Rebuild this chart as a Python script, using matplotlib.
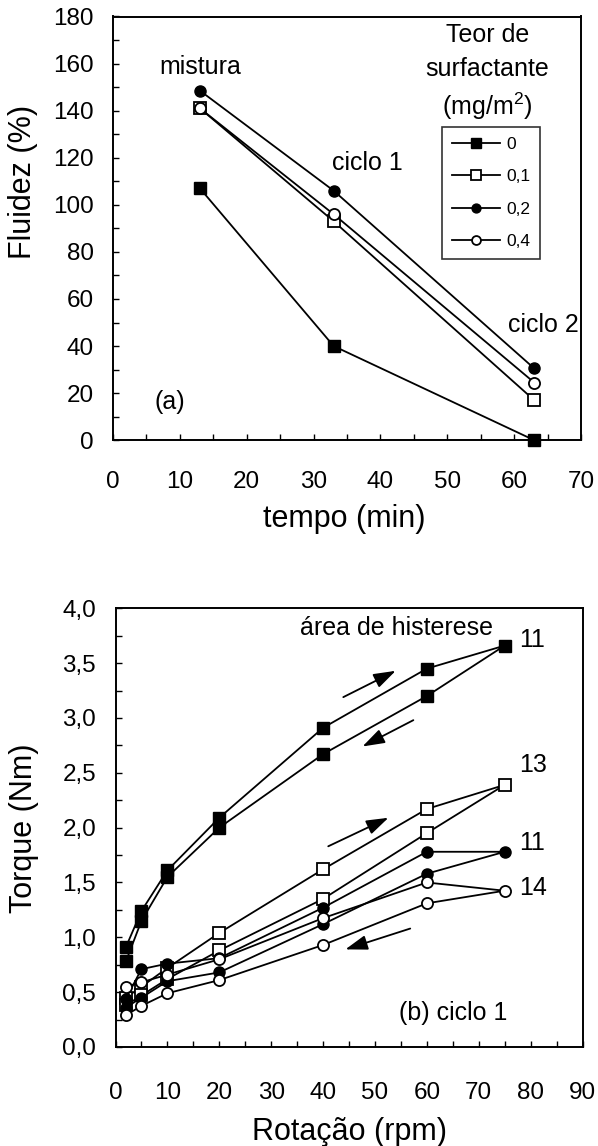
import matplotlib
matplotlib.use("Agg")
import matplotlib.pyplot as plt
from matplotlib.ticker import MultipleLocator, FixedLocator

plt.rcParams['font.family'] = ['Liberation Sans', 'DejaVu Sans']
plt.rcParams['mathtext.fontset'] = 'custom'
plt.rcParams['mathtext.rm'] = 'Liberation Sans'
plt.rcParams['mathtext.it'] = 'Liberation Sans:italic'
plt.rcParams['mathtext.bf'] = 'Liberation Sans:bold'

# ---------------- data: (a) fluidity ----------------
tempo = [13, 33, 63]
surf_labels = ["0", "0,1", "0,2", "0,4"]
fluidez_0 = [107, 40, 0]
fluidez_01 = [141, 93, 17]
fluidez_02 = [148.5, 106, 30.5]
fluidez_04 = [141, 96, 24.5]

# ---------------- data: (b) torque hysteresis ----------------
rot_up = [2, 5, 10, 20, 40, 60, 75]
rot_down = [60, 40, 20, 10, 5, 2]
torque_0_up = [0.91, 1.24, 1.61, 2.09, 2.91, 3.45, 3.66]
torque_0_down = [3.20, 2.67, 2.00, 1.55, 1.15, 0.78]
torque_01_up = [0.45, 0.55, 0.72, 1.04, 1.62, 2.17, 2.39]
torque_01_down = [1.95, 1.35, 0.88, 0.62, 0.47, 0.38]
torque_02_up = [0.44, 0.71, 0.76, 0.81, 1.27, 1.78, 1.78]
torque_02_down = [1.58, 1.12, 0.68, 0.60, 0.45, 0.36]
torque_04_up = [0.55, 0.59, 0.66, 0.80, 1.175, 1.50, 1.425]
torque_04_down = [1.31, 0.93, 0.61, 0.49, 0.375, 0.29]
hyst_areas = ["11", "13", "11", "14"]

yticks_a = [0, 20, 40, 60, 80, 100, 120, 140, 160, 180]
xticks_a = [0, 10, 20, 30, 40, 50, 60, 70]
yticks_b = [0.0, 0.5, 1.0, 1.5, 2.0, 2.5, 3.0, 3.5, 4.0]
yticklabels_b = ["0,0", "0,5", "1,0", "1,5", "2,0", "2,5", "3,0", "3,5", "4,0"]
xticks_b = [0, 10, 20, 30, 40, 50, 60, 70, 80, 90]

W, H = 598, 1146
fig = plt.figure(figsize=(W / 100, H / 100), dpi=100)

def px_axes(l, t, r, b):
    return fig.add_axes([l / W, 1 - b / H, (r - l) / W, (b - t) / H])

ax1 = px_axes(113, 16.5, 581, 440.2)
ax2 = px_axes(115.5, 608.3, 582.5, 1047)

styles = [
    dict(marker='s', mfc='black', mec='black', ms=9),
    dict(marker='s', mfc='white', mec='black', ms=9, mew=1.3),
    dict(marker='o', mfc='black', mec='black', ms=8),
    dict(marker='o', mfc='white', mec='black', ms=8, mew=1.3),
]

tick_fs = 17.5
for ax in (ax1, ax2):
    for sp in ax.spines.values():
        sp.set_linewidth(1.4)
    ax.tick_params(which='both', direction='in', length=4.5, width=1.0,
                   top=False, right=False, labelsize=tick_fs)

# ---------------- panel (a) ----------------
series_a = [fluidez_0, fluidez_01, fluidez_02, fluidez_04]
handles = []
for vals, st, lab in zip(series_a, styles, surf_labels):
    h, = ax1.plot(tempo, vals, color='black', lw=1.3, label=lab, clip_on=False, **st)
    handles.append(h)
ax1.set_xlim(0, 70)
ax1.set_ylim(0, 180)
ax1.xaxis.set_major_locator(FixedLocator(xticks_a))
ax1.xaxis.set_minor_locator(MultipleLocator(5))
ax1.yaxis.set_major_locator(FixedLocator(yticks_a))
ax1.yaxis.set_minor_locator(MultipleLocator(10))
ax1.tick_params(axis='y', pad=14)
ax1.tick_params(axis='x', pad=22)

ann_fs = 18
ax1.text(13, 158.6, "mistura", ha='center', va='center', fontsize=ann_fs)
ax1.text(38, 117.8, "ciclo 1", ha='center', va='center', fontsize=ann_fs)
ax1.text(64.3, 49, "ciclo 2", ha='center', va='center', fontsize=ann_fs)
ax1.text(8.5, 16.2, "(a)", ha='center', va='center', fontsize=ann_fs)
ax1.text(56, 172.2, "Teor de", ha='center', va='center', fontsize=ann_fs)
ax1.text(56, 157.5, "surfactante", ha='center', va='center', fontsize=ann_fs)
ax1.text(56, 141.8, r"(mg/m$^{\mathregular{2}}$)", ha='center', va='center', fontsize=ann_fs)

leg = ax1.legend(handles=handles, loc='upper left',
                 bbox_to_anchor=(442 / W, 1 - 127 / H), bbox_transform=fig.transFigure,
                 fontsize=12.5, frameon=True, fancybox=False, edgecolor='black',
                 handlelength=2.8, handletextpad=0.35, labelspacing=1.0,
                 borderpad=0.55, borderaxespad=0, markerscale=0.8)
leg.get_frame().set_linewidth(1.2)

fig.text(23 / W, 1 - 182 / H, "Fluidez (%)", rotation=90, ha='center', va='center', fontsize=22)
fig.text(344 / W, 1 - 527 / H, "tempo (min)", ha='center', va='baseline', fontsize=22)

# ---------------- panel (b) ----------------
series_b = [(torque_0_up, torque_0_down), (torque_01_up, torque_01_down),
            (torque_02_up, torque_02_down), (torque_04_up, torque_04_down)]
for (up, down), st in zip(series_b, styles):
    ax2.plot(rot_up + rot_down, up + down, color='black', lw=1.3, clip_on=False, **st)
ax2.set_xlim(0, 90)
ax2.set_ylim(0, 4)
ax2.xaxis.set_major_locator(FixedLocator(xticks_b))
ax2.xaxis.set_minor_locator(MultipleLocator(5))
ax2.yaxis.set_major_locator(FixedLocator(yticks_b))
ax2.set_yticklabels(yticklabels_b)
ax2.yaxis.set_minor_locator(MultipleLocator(0.25))
ax2.tick_params(axis='y', pad=14)
ax2.tick_params(axis='x', pad=25)

ax2.text(54.2, 3.82, "área de histerese", ha='center', va='center', fontsize=ann_fs)
for lab, yy in zip(hyst_areas, [3.71, 2.57, 1.86, 1.45]):
    ax2.text(77.7, yy, lab, ha='left', va='center', fontsize=ann_fs)
ax2.text(65.0, 0.31, "(b) ciclo 1", ha='center', va='center', fontsize=ann_fs)

arrow_kw = dict(arrowstyle='-|>,head_length=0.9,head_width=0.3', color='black',
                lw=1.3, shrinkA=0, shrinkB=0, mutation_scale=15)
for (x0, y0, x1, y1) in [(43.9, 3.19, 54.0, 3.43), (57.4, 2.98, 47.6, 2.74),
                         (41.0, 1.83, 52.6, 2.09), (56.8, 1.08, 44.3, 0.89)]:
    ax2.annotate("", xy=(x1, y1), xytext=(x0, y0), arrowprops=arrow_kw)

fig.text(24 / W, 1 - 828 / H, "Torque (Nm)", rotation=90, ha='center', va='center', fontsize=22)
fig.text(349 / W, 1 - 1140 / H, "Rotação (rpm)", ha='center', va='baseline', fontsize=22)

fig.savefig("out.png", dpi=100)
